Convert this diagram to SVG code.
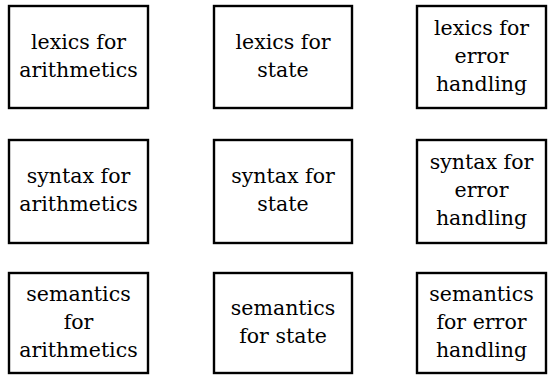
<svg xmlns="http://www.w3.org/2000/svg" width="548" height="376" viewBox="0 0 548 376">
<style>
.b{fill:#fff;stroke:#000;stroke-width:2.4}
.t{font-family:'DejaVu Serif','Liberation Serif',serif;font-size:20.5px;fill:#000;text-anchor:middle}
</style>
<rect width="548" height="376" fill="#fff"/>
<g id="lex-arith"><rect class="b" x="9" y="6" width="139" height="102"/><text class="t"><tspan x="78.5" y="49">lexics for</tspan><tspan x="78.5" y="77">arithmetics</tspan></text></g>
<g id="lex-state"><rect class="b" x="214" y="6" width="138" height="102"/><text class="t"><tspan x="283" y="49">lexics for</tspan><tspan x="283" y="77">state</tspan></text></g>
<g id="lex-error"><rect class="b" x="417" y="6" width="129" height="102"/><text class="t"><tspan x="481.5" y="35">lexics for</tspan><tspan x="481.5" y="63">error</tspan><tspan x="481.5" y="91">handling</tspan></text></g>
<g id="syn-arith"><rect class="b" x="9" y="140" width="139" height="103"/><text class="t"><tspan x="78.5" y="183">syntax for</tspan><tspan x="78.5" y="211">arithmetics</tspan></text></g>
<g id="syn-state"><rect class="b" x="214" y="140" width="138" height="103"/><text class="t"><tspan x="283" y="183">syntax for</tspan><tspan x="283" y="211">state</tspan></text></g>
<g id="syn-error"><rect class="b" x="417" y="140" width="129" height="103"/><text class="t"><tspan x="481.5" y="169">syntax for</tspan><tspan x="481.5" y="197">error</tspan><tspan x="481.5" y="225">handling</tspan></text></g>
<g id="sem-arith"><rect class="b" x="9" y="273" width="139" height="100"/><text class="t"><tspan x="78.5" y="301">semantics</tspan><tspan x="78.5" y="329">for</tspan><tspan x="78.5" y="357">arithmetics</tspan></text></g>
<g id="sem-state"><rect class="b" x="214" y="273" width="138" height="100"/><text class="t"><tspan x="283" y="315">semantics</tspan><tspan x="283" y="343">for state</tspan></text></g>
<g id="sem-error"><rect class="b" x="417" y="273" width="129" height="100"/><text class="t"><tspan x="481.5" y="301">semantics</tspan><tspan x="481.5" y="329">for error</tspan><tspan x="481.5" y="357">handling</tspan></text></g>
<g id="connectors"/>
</svg>
